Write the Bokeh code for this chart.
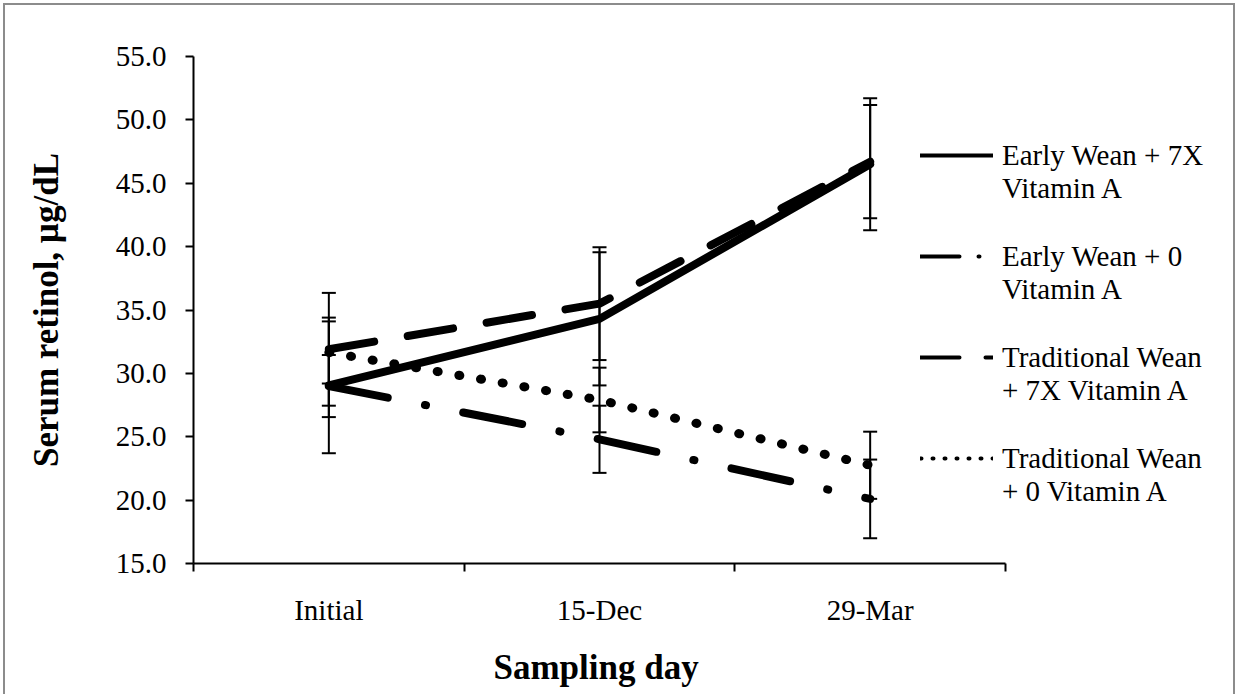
from bokeh.plotting import figure
from bokeh.models import (ColumnDataSource, Whisker, TeeHead, FixedTicker, Legend,
                          LegendItem, NumeralTickFormatter, Range1d, Title)
from bokeh.embed import file_html
from bokeh.resources import INLINE

# ---------------- data ----------------
categories = ["Initial", "15-Dec", "29-Mar"]
series_label_line1 = ["Early Wean + 7X", "Early Wean + 0",
                      "Traditional Wean", "Traditional Wean"]
series_label_line2 = ["Vitamin A", "Vitamin A", "+ 7X Vitamin A", "+ 0 Vitamin A"]
ew7_mean = [29.05, 34.3, 46.5]
ew7_err = [5.35, 5.25, 5.2]
ew0_mean = [29.0, 24.8, 20.1]
ew0_err = [2.45, 2.65, 3.1]
tw7_mean = [31.9, 35.5, 46.7]
tw7_err = [4.45, 4.45, 4.47]
tw0_mean = [31.65, 27.9, 22.75]
tw0_err = [2.45, 2.55, 2.65]
y_ticks = [15, 20, 25, 30, 35, 40, 45, 50, 55]
x_title = "Sampling day"
y_title = "Serum retinol, µg/dL"

FONT = "Liberation Serif"

# layout (pixels)
W, H = 1232, 706
LEFT, TOP, BOTTOM = 188, 51, 148
AXIS_PX = 812                      # length of the category axis
FRAME_PX = W - LEFT                # frame reaches the right edge (room for legend)

n = len(categories)
cat_x = [i + 0.5 for i in range(n)]
cat_bounds = [i for i in range(n + 1)]

p = figure(width=W, height=H, output_backend="svg", toolbar_location=None,
           x_range=Range1d(0, n * FRAME_PX / AXIS_PX),
           y_range=Range1d(y_ticks[0], y_ticks[-1]),
           min_border_left=LEFT, min_border_right=0, min_border_top=TOP,
           min_border_bottom=BOTTOM)
p.styles = {"margin-left": "3px", "margin-top": "3px", "border": "2px solid #8c8c8c"}
p.xgrid.visible = False
p.ygrid.visible = False
p.outline_line_color = None
p.background_fill_color = "white"
p.border_fill_color = "white"

means = [ew7_mean, ew0_mean, tw7_mean, tw0_mean]
errs = [ew7_err, ew0_err, tw7_err, tw0_err]
dashes = ["solid", "60 38 1 38", "46 34", "1 21"]
widths = [8, 8, 8, 9]
legend_dashes = ["solid", "39 19 1 19", "39 26", "1 11"]

for m, e, d, lw in zip(means, errs, dashes, widths):
    src = ColumnDataSource(dict(x=cat_x, y=m,
                                upper=[a + b for a, b in zip(m, e)],
                                lower=[a - b for a, b in zip(m, e)]))
    p.line("x", "y", source=src, line_color="black", line_width=lw, line_dash=d,
           line_cap="round", line_join="round")
    w = Whisker(source=src, base="x", upper="upper", lower="lower", dimension="height",
                line_color="black", line_width=2,
                upper_head=TeeHead(size=14, line_width=2, line_color="black"),
                lower_head=TeeHead(size=14, line_width=2, line_color="black"))
    p.add_layout(w)

# legend-only renderers (thinner lines, like the original legend keys); NaN -> nothing drawn
nan = float("nan")
items1, items2 = [], []
blank = p.line(x=[nan], y=[nan], line_alpha=0)
for lab1, lab2, d in zip(series_label_line1, series_label_line2, legend_dashes):
    r = p.line(x=[nan], y=[nan], line_color="black", line_width=4, line_dash=d,
               line_cap="round")
    items1.append(LegendItem(label=lab1, renderers=[r]))
    items2.append(LegendItem(label=lab2, renderers=[blank]))

legend_kw = dict(orientation="vertical", label_text_font=FONT, label_text_font_size="29px",
                 label_text_color="black", glyph_width=73, glyph_height=34,
                 label_height=34, label_standoff=9, spacing=67, padding=0, margin=0,
                 border_line_color=None, background_fill_alpha=0)
p.add_layout(Legend(items=items1, location=(727, 88), **legend_kw))
p.add_layout(Legend(items=items2, location=(727, 55), **legend_kw))

# y axis
p.yaxis.ticker = FixedTicker(ticks=y_ticks, minor_ticks=[])
p.yaxis.formatter = NumeralTickFormatter(format="0.0")
p.yaxis.axis_label = y_title
p.yaxis.major_tick_out = 8
p.yaxis.major_tick_in = 0
p.yaxis.major_label_standoff = 19

# x axis: labels at category centres, tick marks at category boundaries
p.xaxis.bounds = (0, n)
p.xaxis.ticker = FixedTicker(ticks=cat_x, minor_ticks=cat_bounds)
p.xaxis.major_label_overrides = {x: c for x, c in zip(cat_x, categories)}
p.xaxis.major_tick_out = 0
p.xaxis.major_tick_in = 0
p.xaxis.minor_tick_out = 8
p.xaxis.minor_tick_in = 0
p.xaxis.major_label_standoff = 22

for ax in (p.xaxis[0], p.yaxis[0]):
    ax.axis_line_width = 2
    ax.axis_line_color = "black"
    ax.major_tick_line_width = 2
    ax.minor_tick_line_width = 2
    ax.major_tick_line_color = "black"
    ax.minor_tick_line_color = "black"
    ax.major_label_text_font = FONT
    ax.major_label_text_font_size = "29px"
    ax.major_label_text_color = "black"
    ax.axis_label_text_font = FONT
    ax.axis_label_text_font_size = "35px"
    ax.axis_label_text_font_style = "bold"
    ax.axis_label_text_color = "black"

p.yaxis.axis_label_standoff = 47

# x-axis title, centred under the category axis (not under the wider frame)
xt = Title(text=x_title, align="left", offset=300, standoff=34,
           text_font=FONT, text_font_size="35px", text_font_style="bold",
           text_color="black")
p.add_layout(xt, "below")

open("out.html", "w").write(file_html(p, INLINE))
